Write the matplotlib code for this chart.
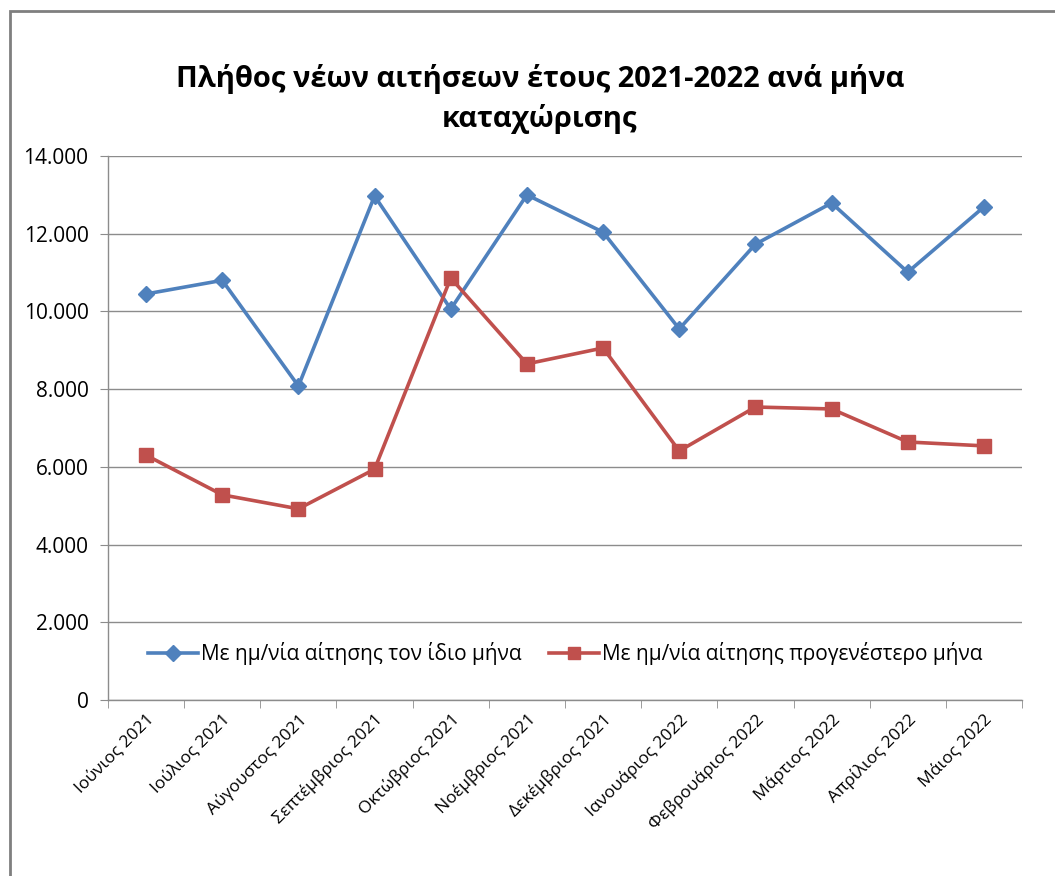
import matplotlib.pyplot as plt
from matplotlib.patches import Rectangle
from matplotlib.ticker import FuncFormatter
import numpy as np

plt.rcParams['font.family'] = ['Open Sans', 'DejaVu Sans']

months = ['Ιούνιος 2021', 'Ιούλιος 2021', 'Αύγουστος 2021', 'Σεπτέμβριος 2021',
          'Οκτώβριος 2021', 'Νοέμβριος 2021', 'Δεκέμβριος 2021', 'Ιανουάριος 2022',
          'Φεβρουάριος 2022', 'Μάρτιος 2022', 'Απρίλιος 2022', 'Μάιος 2022']
same_month = [10450, 10800, 8080, 12970, 10060, 13000, 12040, 9550, 11730, 12790, 11010, 12690]
earlier_month = [6300, 5280, 4920, 5940, 10860, 8650, 9060, 6410, 7540, 7490, 6640, 6540]

label_same = 'Με ημ/νία αίτησης τον ίδιο μήνα'
label_earlier = 'Με ημ/νία αίτησης προγενέστερο μήνα'

blue = '#4F81BD'
red = '#C0504D'
grid_col = '#8C8C8C'

fig = plt.figure(figsize=(10.55, 8.76), dpi=100)
ax = fig.add_axes([108/1055, 1-700/876, (1022-108)/1055, (700-156)/876])

x = np.arange(len(months))
ax.plot(x, same_month, color=blue, linewidth=2.6, marker='D', markersize=8.5,
        label=label_same, zorder=3)
ax.plot(x, earlier_month, color=red, linewidth=2.6, marker='s', markersize=10,
        label=label_earlier, zorder=3)

ax.set_xlim(-0.5, len(months) - 0.5)
ax.set_ylim(0, 14000)
ax.set_yticks(np.arange(0, 14001, 2000))
ax.yaxis.set_major_formatter(FuncFormatter(lambda v, p: f'{int(v):,}'.replace(',', '.')))
ax.grid(axis='y', color=grid_col, linewidth=1.0)
ax.set_axisbelow(True)

ax.set_xticks(x)
ax.set_xticklabels(months, rotation=45, ha='right', va='top', rotation_mode='anchor',
                   fontsize=12.5)
ax.set_xticks(np.arange(-0.5, len(months), 1.0), minor=True)
ax.tick_params(axis='x', which='major', length=0, pad=8)
ax.tick_params(axis='x', which='minor', length=6, color=grid_col, direction='out')
ax.tick_params(axis='y', length=6, color=grid_col, labelsize=15, pad=8)

for s in ['top', 'right']:
    ax.spines[s].set_visible(False)
for s in ['left', 'bottom']:
    ax.spines[s].set_color(grid_col)
    ax.spines[s].set_linewidth(1.0)

ax.legend(loc='center', bbox_to_anchor=(0.5, 0.085), ncol=2, frameon=False,
          fontsize=15, handlelength=2.4, handletextpad=0.15, columnspacing=1.3,
          markerscale=0.9)

fig.text(540/1055, 1-99/876, 'Πλήθος νέων αιτήσεων έτους 2021-2022 ανά μήνα\nκαταχώρισης',
         ha='center', va='center', fontsize=21, fontweight='bold', linespacing=1.45)

fig.patches.append(Rectangle((10/1055, -0.1), 1.2, 1 - 11/876 + 0.1, transform=fig.transFigure,
                             fill=False, edgecolor='#7F7F7F', linewidth=2.0))

fig.savefig('out.png', dpi=100)
